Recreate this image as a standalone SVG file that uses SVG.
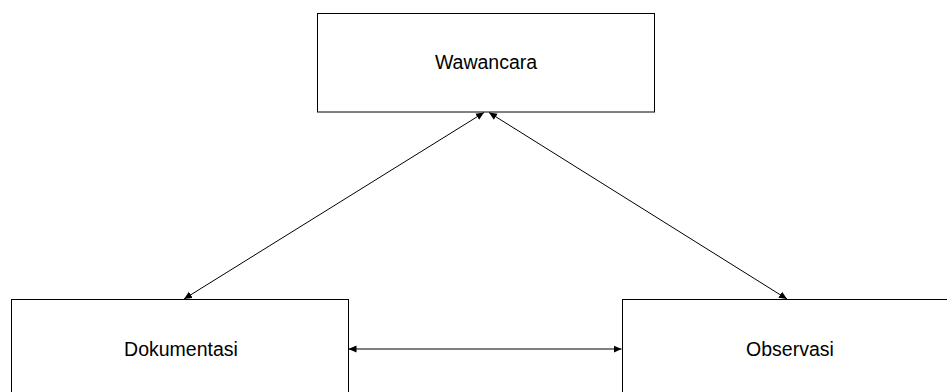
<svg xmlns="http://www.w3.org/2000/svg" width="947" height="392" viewBox="0 0 947 392">
<style>
.box{fill:#fff;stroke:#000;stroke-width:1}
.lbl{font-family:"Liberation Sans",Arial,sans-serif;font-size:19.5px;fill:#000;text-anchor:middle}
.con{stroke:#000;stroke-width:1;fill:none;marker-start:url(#ah);marker-end:url(#ah)}
</style>
<defs>
<marker id="ah" viewBox="0 0 10 10" refX="10" refY="5" markerWidth="8" markerHeight="8" markerUnits="userSpaceOnUse" orient="auto-start-reverse">
<path d="M0,0.5 L10,5 L0,9.5 Z" fill="#000"/>
</marker>
</defs>
<rect width="947" height="392" fill="#fff"/>
<g id="connectors">
<line class="con" x1="184" y1="299" x2="484" y2="112.5"/>
<line class="con" x1="489" y1="112.5" x2="787" y2="299"/>
<line class="con" x1="348.5" y1="349" x2="621.5" y2="349"/>
</g>
<g id="wawancara">
<rect class="box" x="317.5" y="13.5" width="337" height="98.5"/>
<text class="lbl" x="486" y="69">Wawancara</text>
</g>
<g id="dokumentasi">
<rect class="box" x="11.5" y="299.5" width="337" height="100"/>
<text class="lbl" x="181" y="356">Dokumentasi</text>
</g>
<g id="observasi">
<rect class="box" x="622.5" y="299.5" width="337" height="100"/>
<text class="lbl" x="790" y="356">Observasi</text>
</g>
</svg>
